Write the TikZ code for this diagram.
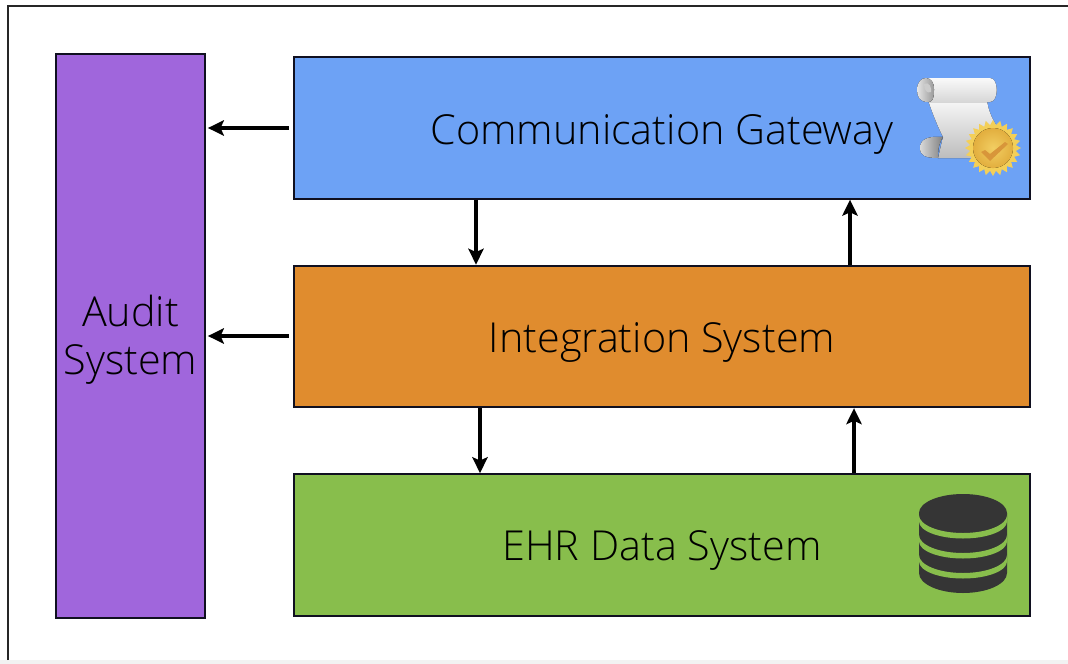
\documentclass[tikz,border=0pt]{standalone}
\usepackage{fontspec}
\setmainfont{Open Sans Light}
\usetikzlibrary{arrows.meta,shapes.geometric}
\definecolor{gwblue}{HTML}{6DA2F5}
\definecolor{intorange}{HTML}{E08C2E}
\definecolor{ehrgreen}{HTML}{88BE4C}
\definecolor{auditpurple}{HTML}{A066DC}
\definecolor{edgedark}{HTML}{101020}
\definecolor{dbdark}{HTML}{353535}
\definecolor{sealray}{HTML}{F3CF58}
\definecolor{sealin}{HTML}{F2CE62}
\definecolor{sealout}{HTML}{E2AE3E}
\definecolor{sealcheck}{HTML}{D8963A}
\tikzset{
  sysbox/.style={draw=edgedark,line width=1.6pt,anchor=north west,inner sep=0pt},
  syslabel/.style={font=\fontsize{31}{36}\selectfont,text=black,inner sep=0pt},
  flow/.style={-{Stealth[length=12pt,width=11.5pt,inset=2.5pt]},line width=2.9pt,black},
}
\begin{document}
\begin{tikzpicture}[x=0.75pt,y=-0.75pt]
\useasboundingbox (0,0) rectangle (1068,664);
\fill[white] (0,0) rectangle (1068,664);
\fill[black!5] (0,660) rectangle (1068,664);
\draw[black!85,line width=1.6pt] (8,660) -- (8,6) -- (1068,6);
\node[sysbox,fill=auditpurple,minimum width=111.7pt,minimum height=423pt] (audit) at (54.8,53.2) {};
\node[sysbox,fill=gwblue,minimum width=552pt,minimum height=106pt] (gw) at (292.8,56.2) {};
\node[sysbox,fill=intorange,minimum width=552pt,minimum height=106pt] (int) at (292.8,264.7) {};
\node[sysbox,fill=ehrgreen,minimum width=552pt,minimum height=106pt] (ehr) at (292.8,473.2) {};
\node[syslabel,align=center] (audittext) at (130.5,340) {Audit\\System};
\node[syslabel] (gwtext) at (662,134) {Communication Gateway};
\node[syslabel] (inttext) at (662,342) {Integration System};
\node[syslabel] (ehrtext) at (662,550) {EHR Data System};
% connectors
\coordinate (xa) at (476,0);
\coordinate (xb) at (850,0);
\coordinate (xc) at (480,0);
\coordinate (xd) at (854,0);
\draw[flow,shorten >=1.5pt,shorten <=3pt] (gw.west |- 0,128) -- (audit.east |- 0,128);
\draw[flow,shorten >=1.5pt,shorten <=3pt] (int.west |- 0,336) -- (audit.east |- 0,336);
\draw[flow] (gw.south -| xa) -- (int.north -| xa);
\draw[flow] (int.north -| xb) -- (gw.south -| xb);
\draw[flow] (int.south -| xc) -- (ehr.north -| xc);
\draw[flow] (ehr.north -| xd) -- (int.south -| xd);
% scroll icon
\fill[top color=black!3,bottom color=black!26] (928,100) .. controls (933,115) and (938,127) .. (943,137) -- (938,158) -- (990,158) -- (996,125) .. controls (992,118) and (988,110) .. (987,100) -- cycle;
\fill[top color=black!2,bottom color=black!16] (928,78) -- (990,78) .. controls (999,78) and (999,102) .. (990,102) -- (928,102) -- cycle;
\fill[left color=black!10,right color=black!42] (917,90) .. controls (917,74) and (935,74) .. (934,90) .. controls (934,100) and (932,102) .. (928,102) .. controls (920,102) and (917,97) .. (917,90) -- cycle;
\fill[black!20] (924,84) .. controls (929,81) and (932,88) .. (931,92) .. controls (927,94) and (924,90) .. (924,84) -- cycle;
\fill[left color=black!15,right color=black!50] (920,148) .. controls (920,138) and (930,136) .. (943,137) .. controls (938,145) and (938,152) .. (938,158) .. controls (926,158) and (920,156) .. (920,148) -- cycle;
% seal
\node[star,star points=24,star point ratio=1.22,minimum size=42pt,inner sep=0pt,fill=sealray,draw=none] (seal) at (993,148) {};
\fill[inner color=sealin,outer color=sealout] (993,148) circle (15pt);
\fill[sealcheck] (981,152) -- (985,150) -- (990,154) -- (1005,142) -- (1008,144) -- (990,161) -- cycle;
% database icon
\fill[dbdark] (919,513) -- (919,573) arc[start angle=180,end angle=0,x radius=44,y radius=20] -- (1007,513) -- cycle;
\foreach \dy in {0,20,40}{
  \fill[ehrgreen,yshift=-\dy*0.75pt] (919,515) arc[start angle=180,end angle=0,x radius=44,y radius=18]
     -- (1007,521.5) arc[start angle=0,end angle=180,x radius=44,y radius=17] -- cycle;
}
\fill[dbdark] (963,513) ellipse[x radius=44,y radius=19];
\end{tikzpicture}
\end{document}
